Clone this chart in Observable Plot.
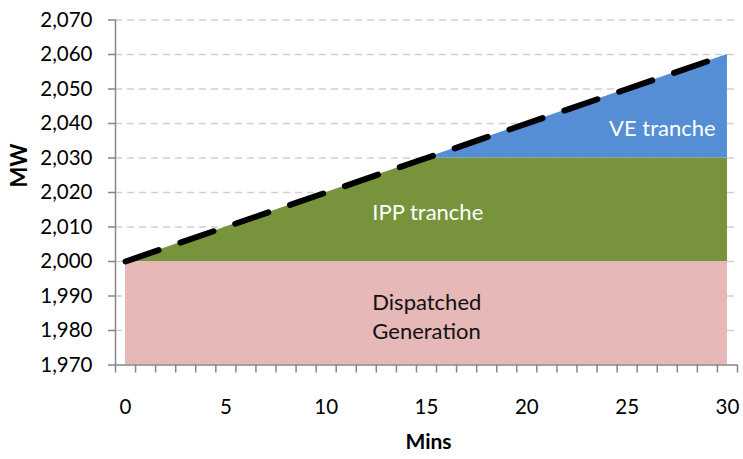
<!DOCTYPE html>
<html>
<head>
<meta charset="utf-8">
<script src="https://cdn.jsdelivr.net/npm/d3@7"></script>
<script src="https://cdn.jsdelivr.net/npm/@observablehq/plot@0.6"></script>
<style>
  html, body { margin: 0; padding: 0; background: #fff; }
  #chart svg { display: block; }
</style>
</head>
<body>
<div id="chart"></div>
<script>
// ---- data ----
const mins = [0, 15, 30];                 // breakpoints of the ramp (minutes)
const dispatched = [2000, 2000, 2000];    // Dispatched Generation (MW)
const rampTarget = [2000, 2030, 2060];    // dashed ramp line (MW)
const ippCap = [2000, 2030, 2030];        // top of IPP tranche (MW)
const yTicks = [1970, 1980, 1990, 2000, 2010, 2020, 2030, 2040, 2050, 2060, 2070];
const xTickLabels = [0, 5, 10, 15, 20, 25, 30];
const labelText = ["Dispatched", "Generation", "IPP tranche", "VE tranche"];
const labelMin = [12.3, 12.3, 12.3, 24.1];
const labelMW = [1988.1, 1979.7, 2014.2, 2038.5];
const labelColor = ["#111111", "#111111", "#ffffff", "#ffffff"];

const yMin = 1970, yMax = 2070;
const rows = mins.map((m, i) => ({m, disp: dispatched[i], target: rampTarget[i], ipp: ippCap[i]}));
const veRows = rows.filter(d => d.m >= 15);
const labels = labelText.map((t, i) => ({t, x: labelMin[i], y: labelMW[i], c: labelColor[i]}));
const boundaries = d3.range(-0.5, 31, 1);

const chart = Plot.plot({
  width: 743,
  height: 459,
  marginLeft: 115,
  marginRight: 6,
  marginTop: 19.5,
  marginBottom: 94.5,
  x: {domain: [-0.5, 30.5]},
  y: {domain: [yMin, yMax]},
  style: {fontFamily: "Lato, 'Open Sans', sans-serif", fontSize: "20px", color: "#000", background: "#fff", overflow: "visible"},
  marks: [
    Plot.ruleY(yTicks.filter(d => d > yMin), {stroke: "#d0d0d0", strokeWidth: 1.5, strokeDasharray: "7,5"}),
    Plot.areaY(rows, {x: "m", y1: yMin, y2: "disp", fill: "#e6b8b7"}),
    Plot.areaY(rows, {x: "m", y1: "disp", y2: "ipp", fill: "#77933c"}),
    Plot.areaY(veRows, {x: "m", y1: "ipp", y2: "target", fill: "#558ed5"}),
    Plot.line(rows, {x: "m", y: "target", stroke: "#000", strokeWidth: 6, strokeDasharray: "35,23", strokeLinecap: "round"}),
    Plot.text(labels, {x: "x", y: "y", text: "t", fill: "c", fontSize: 22, textAnchor: "start"}),
    Plot.axisY({ticks: yTicks, tickFormat: d3.format(","), tickSize: 7, tickPadding: 16, stroke: "#868686", strokeWidth: 1.5, label: null, fontSize: 20.5}),
    Plot.axisX({ticks: boundaries, tickFormat: () => "", tickSize: 8, stroke: "#868686", strokeWidth: 1.5, label: null}),
    Plot.axisX({ticks: xTickLabels, tickSize: 0, tickPadding: 34, label: null, fontSize: 20.5}),
    Plot.ruleX([-0.5], {stroke: "#868686", strokeWidth: 1.5}),
    Plot.ruleY([yMin], {stroke: "#868686", strokeWidth: 1.5}),
    Plot.text(["MW"], {frameAnchor: "left", dx: -96, rotate: -90, fontWeight: "bold", fontSize: 22, dy: -5}),
    Plot.text(["Mins"], {frameAnchor: "bottom", dy: 84, dx: 2, fontWeight: "bold", fontSize: 21})
  ]
});
document.getElementById("chart").appendChild(chart);
</script>
</body>
</html>
